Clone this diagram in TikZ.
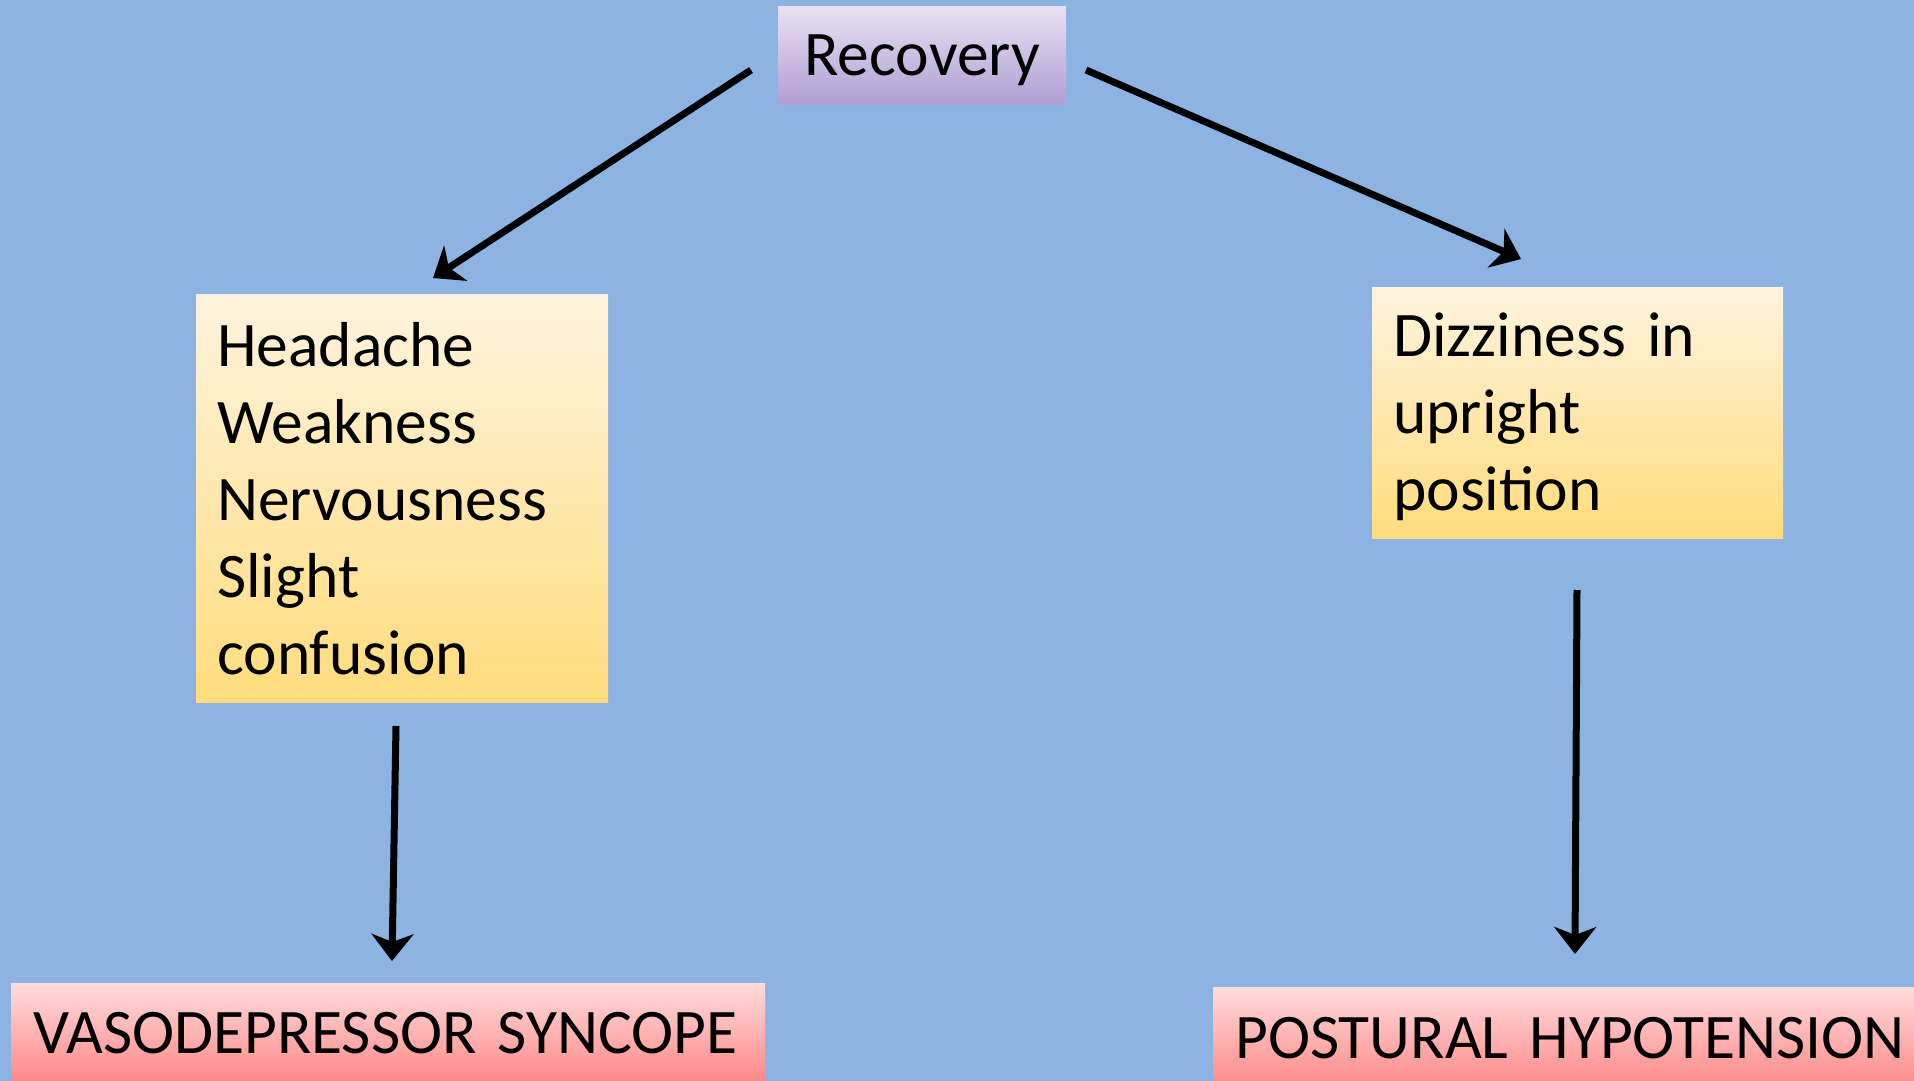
\documentclass[tikz,border=0pt]{standalone}
\usepackage{fontspec}
\setmainfont{Carlito}
\usetikzlibrary{arrows.meta}
\definecolor{bgblue}{RGB}{141,179,226}
\definecolor{purtop}{RGB}{232,226,242}
\definecolor{purbot}{RGB}{176,158,212}
\definecolor{yeltop}{RGB}{255,243,222}
\definecolor{yelbot}{RGB}{255,220,124}
\definecolor{pinktop}{RGB}{255,220,220}
\definecolor{pinkbot}{RGB}{255,134,134}
\tikzset{
  boxbase/.style={rectangle, draw=none, anchor=north west, align=left, inner ysep=0pt,
    font=\fontsize{63.5}{77}\selectfont, shading=axis},
  purbox/.style={boxbase, top color=purtop, bottom color=purbot, inner xsep=0pt, align=center},
  yelbox/.style={boxbase, top color=yeltop, bottom color=yelbot, inner xsep=21pt},
  pinkbox/.style={boxbase, top color=pinktop, bottom color=pinkbot, inner xsep=22pt},
  conn/.style={line width=7pt, -{Stealth[length=27pt, width=42pt, inset=8pt]}}
}
\begin{document}
\begin{tikzpicture}[x=1pt,y=-1pt]
\useasboundingbox (0,0) rectangle (1914,1081);
\fill[bgblue] (0,0) rectangle (1914,1081);

\node[purbox, minimum width=288pt, minimum height=98pt, text depth=0pt] (rec) at (778,6) {Recovery};
\node[yelbox, text width=370pt, minimum height=408pt] (sym) at (196,294)
  {Headache\\Weakness\\Nervousness\\Slight\\confusion};
\node[yelbox, text width=369pt, minimum height=251pt, text depth=157pt] (diz) at (1372,287)
  {Dizziness in\\upright\\position};
\node[pinkbox, text width=710pt, minimum height=100pt] (vas) at (11,983)
  {VASODEPRESSOR SYNCOPE};
\node[pinkbox, text width=701pt, minimum height=102pt] (pos) at (1213,987)
  {POSTURAL HYPOTENSION};

\coordinate (a1s) at (751,70);
\coordinate (a1e) at (433,278);
\coordinate (a2s) at (1086,70);
\coordinate (a2e) at (1521,259);
\coordinate (a3s) at (396,726);
\coordinate (a3e) at (392,961);
\coordinate (a4s) at (1577,590);
\coordinate (a4e) at (1575,954);

\draw[conn] (a1s) -- (a1e);
\draw[conn] (a2s) -- (a2e);
\draw[conn] (a3s) -- (a3e);
\draw[conn] (a4s) -- (a4e);
\end{tikzpicture}
\end{document}
